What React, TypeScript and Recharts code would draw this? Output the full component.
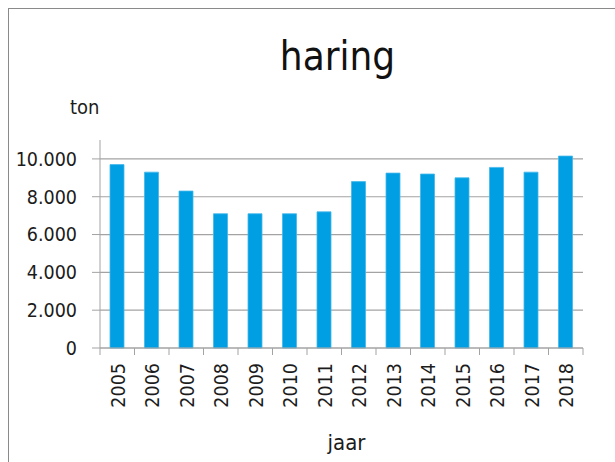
import React from 'react';
import { BarChart, Bar, XAxis, YAxis, CartesianGrid } from 'recharts';

const YEARS = ['2005', '2006', '2007', '2008', '2009', '2010', '2011', '2012', '2013', '2014', '2015', '2016', '2017', '2018'];
const TONS = [9700, 9300, 8300, 7100, 7100, 7100, 7200, 8800, 9250, 9200, 9000, 9550, 9300, 10150];
const Y_TICKS = [0, 2000, 4000, 6000, 8000, 10000];
const Y_MAX = 11000;

const FONT = "'DejaVu Sans Condensed', 'DejaVu Sans', sans-serif";
const GRID = '#a3a3a3';
const BLUE = '#009fe3';
const TEXT = '#1c1c1c';

const W = 606;
const H = 453;
const MARGIN = { top: 131, right: 32, left: 0, bottom: 0 };
const Y_W = 91;
const X_H = 114;
const BAND = (W - MARGIN.left - MARGIN.right - Y_W) / YEARS.length;

const data = YEARS.map((jaar, i) => ({ jaar, ton: TONS[i] }));

const fmt = (v: number) => String(v).replace(/\B(?=(\d{3})+(?!\d))/g, '.');

// Excel-style x ticks: marks sit on the category boundaries, labels run bottom-to-top
function YearTick(props: any) {
  const { x, y, payload, index } = props;
  const axisY = y - 7;
  const last = index === YEARS.length - 1;
  return (
    <g>
      <line x1={x - BAND / 2} x2={x - BAND / 2} y1={axisY} y2={axisY + 7} stroke={GRID} />
      {last && <line x1={x + BAND / 2} x2={x + BAND / 2} y1={axisY} y2={axisY + 7} stroke={GRID} />}
      <text
        x={0}
        y={0}
        transform={`translate(${x + 1},${axisY + 15}) rotate(-90)`}
        textAnchor="end"
        dominantBaseline="central"
        fontFamily={FONT}
        fontSize={19.5}
        fill={TEXT}
      >
        {payload.value}
      </text>
    </g>
  );
}

// grid only on the labelled ticks, not on the top of the domain
const gridRows = ({ offset }: any) =>
  Y_TICKS.map((t) => offset.top + offset.height * (1 - t / Y_MAX));

export default function App() {
  return (
    <div
      style={{
        position: 'absolute',
        top: 8,
        left: 8,
        width: 607,
        height: 454,
        boxSizing: 'border-box',
        borderTop: '1.5px solid #8a8a8a',
        borderLeft: '1.5px solid #8a8a8a',
        background: '#fff',
      }}
    >
      <svg width={W} height={80} style={{ position: 'absolute', left: 0, top: 0 }}>
        <text x={328.5} y={61} textAnchor="middle" fontFamily={FONT} fontSize={40} fill="#111">
          haring
        </text>
      </svg>
      <BarChart width={W} height={H} data={data} margin={MARGIN}>
        <CartesianGrid vertical={false} stroke={GRID} strokeWidth={1.2} horizontalCoordinatesGenerator={gridRows} />
        <XAxis
          dataKey="jaar"
          height={X_H}
          interval={0}
          tickLine={false}
          tickSize={7}
          tickMargin={0}
          stroke={GRID}
          tick={<YearTick />}
          label={{
            value: 'jaar',
            content: ({ viewBox }: any) => (
              <text x={viewBox.x + viewBox.width / 2 + 5} y={viewBox.y + 102} textAnchor="middle" fontFamily={FONT} fontSize={22} fill={TEXT}>
                jaar
              </text>
            ),
          }}
        />
        <YAxis
          width={Y_W}
          domain={[0, Y_MAX]}
          ticks={Y_TICKS}
          tickFormatter={fmt}
          tickSize={8}
          tickMargin={15}
          stroke={GRID}
          tick={{ fontFamily: FONT, fontSize: 19.5, fill: TEXT }}
          label={{
            value: 'ton',
            content: ({ viewBox }: any) => (
              <text x={viewBox.x + 61} y={viewBox.y - 26} fontFamily={FONT} fontSize={20} fill={TEXT}>
                ton
              </text>
            ),
          }}
        />
        <Bar dataKey="ton" fill={BLUE} stroke="#45b8ea" strokeWidth={0.8} barSize={14} isAnimationActive={false} />
      </BarChart>
    </div>
  );
}
